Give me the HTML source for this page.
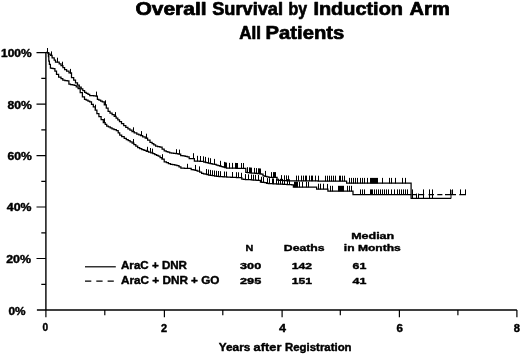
<!DOCTYPE html>
<html><head><meta charset="utf-8"><title>Overall Survival by Induction Arm</title>
<style>html,body{margin:0;padding:0;background:#fff}svg{display:block}</style></head>
<body>
<svg width="520" height="354" viewBox="0 0 520 354">
<rect width="520" height="354" fill="#fff"/>
<g stroke="#000" fill="none" stroke-width="1.4">
<path d="M45.9 52V310M36.9 310H516.9"/>
</g>
<g stroke="#000" fill="none" stroke-width="1.2">
<path d="M41.3 284.3H45.9M36.5 258.5H45.9M41.3 232.8H45.9M36.5 207.0H45.9M41.3 181.3H45.9M36.5 155.6H45.9M41.3 129.8H45.9M36.5 104.1H45.9M41.3 78.3H45.9M36.5 52.6H45.9M45.9 310V317.2M104.8 310V315.2M164.4 310V317.2M222.8 310V315.2M282.1 310V317.2M340.3 310V315.2M399.4 310V317.2M457.9 310V315.2M516.9 310V317.2"/>
</g>
<g stroke="#000" fill="none" stroke-width="1.25" stroke-linejoin="miter">
<path d="M45.9 52.4 H47.0 V52.5 H48.0 H48.8 V54.0 H49.5 H50.2 V55.4 H51.0 H52.1 V57.8 H53.1 H54.2 V60.1 H55.3 H55.5 V62.2 H55.7 H58.2 H59.2 V63.9 H60.1 H61.0 V65.6 H62.0 H62.9 V67.6 H63.7 H64.6 V69.6 H65.4 H66.6 V71.2 H67.8 H69.0 V72.8 H70.2 H71.5 V77.7 H72.7 H73.7 V80.2 H74.6 H75.5 V82.8 H76.5 H77.5 V85.0 H78.4 H79.3 V87.2 H80.3 H81.2 V88.9 H82.0 H82.8 V90.6 H83.7 H84.6 V92.3 H85.4 H86.2 V93.4 H87.1 H88.0 V94.4 H88.8 H89.7 V95.5 H90.5 H91.5 V95.7 H92.6 H93.7 V95.9 H94.7 H95.8 V96.1 H96.8 H97.4 V99.3 H98.1 H98.9 V100.1 H99.8 H100.7 V101.0 H101.5 H102.3 V101.8 H103.2 H104.3 V104.8 H105.5 H106.3 V108.1 H107.2 H108.1 V111.4 H108.9 H110.0 V113.0 H111.0 H112.1 V114.7 H113.1 H114.2 V116.3 H115.2 H116.1 V118.1 H116.9 H117.8 V119.8 H118.7 H119.5 V121.6 H120.4 H121.5 V123.5 H122.6 H123.7 V125.5 H124.7 H125.8 V127.4 H126.9 H127.9 V128.8 H128.9 H129.9 V130.1 H131.0 H132.0 V131.5 H133.0 H134.2 V132.8 H135.5 H136.8 V134.2 H138.0 H138.8 V134.8 H139.7 H140.6 V135.5 H141.4 H142.7 V136.8 H143.9 H145.2 V138.1 H146.4 H147.6 V140.2 H148.8 H150.0 V142.3 H151.2 H152.1 V143.5 H153.0 H153.8 V144.8 H154.7 H155.6 V146.0 H156.5 H157.6 V146.6 H158.8 H159.9 V147.2 H161.0 H162.1 V149.0 H163.2 H164.2 V150.8 H165.3 H166.2 V151.5 H167.1 H167.9 V152.2 H168.8 H169.7 V152.9 H170.6 H171.6 V153.2 H172.7 H173.7 V153.4 H174.7 H175.8 V153.7 H176.8 H178.1 V154.0 H179.4 H180.7 V155.5 H181.9 H183.0 V155.9 H184.0 H185.1 V156.4 H186.2 H187.2 V156.8 H188.3 H189.2 V158.5 H190.0 H193.8 H194.4 V161.0 H195.0 H196.0 V161.1 H196.9 H197.9 V161.2 H198.8 H199.8 V161.3 H200.8 H201.7 V161.4 H202.7 H203.8 V162.1 H204.8 H205.9 V162.7 H207.0 H208.1 V163.1 H209.1 H210.1 V163.6 H211.2 H212.2 V164.0 H213.3 H214.4 V164.4 H215.4 H216.2 V165.1 H217.1 H218.0 V165.7 H218.8 H219.7 V166.1 H220.5 H221.4 V166.6 H222.2 H223.1 V167.0 H223.9 H224.8 V167.6 H225.6 H226.5 V168.2 H227.3 H236.2 V168.3 H245.2 H245.8 V172.4 H246.4 H247.4 V172.6 H248.4 H249.4 V172.8 H250.3 H251.3 V173.0 H252.3 H253.3 V173.2 H254.3 H255.3 V173.4 H256.3 H257.3 V173.6 H258.2 H259.2 V173.8 H260.2 H261.2 V174.0 H262.2 H263.0 V175.8 H263.9 H264.9 V176.3 H265.9 H266.9 V176.9 H268.0 H269.0 V177.4 H270.0 H276.6 H277.1 V180.2 H277.6 H278.6 V180.3 H279.7 H280.7 V180.4 H281.7 H282.8 V180.6 H283.8 H284.8 V180.7 H285.9 H286.9 V180.8 H287.9 H289.0 V180.9 H290.0 H318.0 V181.0 H346.0 H346.6 V183.2 H347.2 H411.1 V198.3 H451.0"/>
<path d="M47.8 52.5 H48.0 V53.3 H48.1 H48.4 V56.7 H48.6 H48.8 V61.0 H49.0 H49.4 V64.3 H49.8 H50.4 V68.2 H51.0 H51.8 V68.4 H52.5 H53.2 V68.6 H54.0 H54.9 V71.1 H55.7 H56.5 V74.3 H57.3 H58.6 V77.1 H60.0 H61.0 V78.7 H61.9 H62.8 V80.2 H63.8 H64.9 V80.6 H66.0 H67.2 V80.9 H68.3 H68.9 V84.1 H69.5 H70.5 V84.5 H71.4 H72.3 V84.9 H73.3 H74.2 V85.3 H75.2 H76.2 V86.9 H77.2 H78.1 V88.5 H79.1 H80.2 V92.7 H81.3 H82.4 V96.8 H83.5 H84.5 V99.3 H85.4 H86.2 V100.1 H87.1 H88.0 V101.0 H88.8 H89.7 V101.8 H90.5 H91.5 V104.3 H92.4 H93.3 V106.9 H94.3 H95.2 V110.2 H96.0 H96.9 V113.6 H97.8 H98.9 V116.5 H100.0 H101.1 V119.6 H102.2 H103.3 V122.7 H104.4 H105.2 V124.3 H106.0 H106.7 V126.0 H107.5 H108.4 V126.9 H109.3 H110.2 V127.9 H111.1 H112.0 V128.8 H112.9 H114.0 V129.7 H115.2 H116.3 V130.6 H117.4 H118.2 V132.8 H119.0 H119.7 V135.0 H120.5 H121.7 V136.7 H123.0 H124.2 V138.4 H125.4 H126.3 V139.6 H127.3 H128.2 V140.7 H129.2 H130.1 V141.9 H131.1 H132.1 V143.1 H133.0 H133.9 V144.6 H134.9 H135.8 V146.1 H136.7 H137.7 V147.6 H138.6 H139.7 V148.5 H140.8 H141.8 V149.5 H142.9 H144.0 V150.4 H145.1 H146.2 V151.3 H147.4 H148.5 V152.2 H149.7 H150.8 V152.9 H151.8 H152.9 V153.6 H154.0 H154.8 V154.5 H155.7 H156.6 V155.3 H157.4 H158.2 V156.2 H159.1 H160.1 V157.6 H161.0 H161.9 V159.0 H162.9 H164.2 V161.8 H165.4 H166.4 V162.6 H167.4 H168.4 V163.5 H169.5 H170.5 V164.3 H171.5 H172.6 V164.7 H173.7 H174.8 V165.2 H175.8 H176.9 V165.6 H178.0 H179.0 V166.9 H179.9 H180.9 V168.2 H181.9 H184.4 V168.3 H187.0 H190.0 H191.2 V169.5 H192.5 H193.3 V169.9 H194.2 H195.1 V170.3 H195.9 H197.2 V171.2 H198.5 H199.6 V172.2 H200.6 H201.6 V173.3 H202.7 H203.5 V173.8 H204.4 H205.2 V174.2 H206.1 H206.9 V174.6 H207.8 H208.6 V175.0 H209.5 H210.3 V175.4 H211.2 H212.3 V175.7 H213.5 H214.6 V176.0 H215.7 H216.9 V176.3 H218.0 H219.0 V176.5 H220.0 H221.0 V176.6 H222.0 H223.0 V176.8 H224.0 H225.0 V176.9 H226.0 H227.0 V177.0 H228.0 H229.0 V177.2 H230.0 H230.9 V177.3 H231.8 H232.8 V177.4 H233.7 H234.6 V177.4 H235.5 H236.4 V177.5 H237.3 H238.2 V177.6 H239.2 H240.1 V177.7 H241.0 H241.8 V179.2 H242.7 H243.6 V179.3 H244.5 H245.4 V179.5 H246.4 H247.3 V179.6 H248.2 H249.2 V179.7 H250.1 H251.1 V179.9 H252.0 H253.0 V180.0 H253.9 H254.9 V180.1 H255.9 H256.8 V180.3 H257.8 H258.7 V180.4 H259.7 H260.4 V182.1 H261.0 H262.1 V182.3 H263.3 H264.5 V182.5 H265.6 H266.5 V183.4 H267.3 H268.4 V183.5 H269.5 H270.6 V183.7 H271.8 H272.9 V183.8 H274.0 H275.0 V183.9 H276.0 H277.0 V184.0 H278.0 H279.0 V184.1 H280.0 H281.0 V184.2 H282.0 H283.0 V184.3 H284.0 H285.0 V184.4 H286.0 H287.0 V184.5 H288.0 H289.0 V184.6 H290.0 H291.7 V184.8 H293.4 V187.0 H316.2 H316.6 V189.0 H317.0 H327.4 H327.9 V191.1 H328.5 H352.4 H353.0 V194.7 H353.6 H411.0"/>
<path d="M411.5 194.7H416.2M418.3 194.7H424.2M428.5 194.7H434.0M437.3 194.7H442.4M445.0 194.7H456.0M459.3 194.7H466.0"/>
</g>
<g stroke="#000" fill="none" stroke-width="1">
<path d="M47.5 52.8v-4.8M51.5 56.2v-4.8M57.5 62.5v-4.8M62.5 66.5v-4.8M70.5 73.7v-4.8M96.5 96.4v-4.8M105.5 105.1v-4.8M115.5 116.9v-4.8M133.5 132.1v-4.8M141.5 135.9v-4.8M146.5 138.5v-4.8M176.5 154.0v-4.8M179.5 154.4v-4.8M193.5 158.8v-5.6M197.5 161.4v-5.6M200.5 161.6v-5.6M203.5 161.9v-5.6M205.5 162.5v-5.6M208.5 163.3v-5.6M210.5 163.8v-5.6M214.5 164.5v-5.6M220.5 166.4v-5.6M224.5 167.5v-5.6M225.5 167.9v-5.6M226.5 168.2v-5.6M229.5 168.5v-5.6M232.5 168.5v-5.6M235.5 168.5v-5.6M236.5 168.6v-5.6M237.5 168.6v-5.6M241.5 168.6v-5.6M243.5 168.6v-5.6M247.5 172.8v-5.6M249.5 173.0v-5.6M250.5 173.1v-5.6M251.5 173.2v-5.6M254.5 173.5v-5.6M256.5 173.7v-5.6M258.5 173.9v-5.6M259.5 174.0v-5.6M260.5 174.1v-5.6M265.5 176.5v-5.6M271.5 177.7v-5.6M273.5 177.7v-5.6M274.5 177.7v-5.6M275.5 177.7v-5.6M281.5 180.7v-5.6M284.5 180.9v-5.6M286.5 181.0v-5.6M288.5 181.1v-5.6M296.5 181.2v-5.6M298.5 181.2v-5.6M301.5 181.2v-5.6M303.5 181.2v-5.6M305.5 181.2v-5.6M306.5 181.2v-5.6M309.5 181.2v-5.6M311.5 181.2v-5.6M312.5 181.2v-5.6M315.5 181.2v-5.6M318.5 181.3v-5.6M325.5 181.3v-5.6M327.5 181.3v-5.6M329.5 181.3v-5.6M331.5 181.3v-5.6M333.5 181.3v-5.6M335.5 181.3v-5.6M339.5 181.3v-5.6M340.5 181.3v-5.6M342.5 181.3v-5.6M344.5 181.3v-5.6M349.5 183.5v-5.6M351.5 183.5v-5.6M353.5 183.5v-5.6M355.5 183.5v-5.6M357.5 183.5v-5.6M360.5 183.5v-5.6M362.5 183.5v-5.6M364.5 183.5v-5.6M367.5 183.5v-5.6M370.5 183.5v-5.6M371.5 183.5v-5.6M372.5 183.5v-5.6M373.5 183.5v-5.6M374.5 183.5v-5.6M375.5 183.5v-5.6M376.5 183.5v-5.6M377.5 183.5v-5.6M382.5 183.5v-5.6M389.5 183.5v-5.6M391.5 183.5v-5.6M395.5 183.5v-5.6M402.5 183.5v-5.6M405.5 183.5v-5.6"/>
<path d="M95.5 109.5v-4.8M104.5 123.1v-4.8M133.5 143.8v-4.8M147.5 151.6v-4.8M150.5 152.8v-4.8M152.5 153.4v-4.8M162.5 159.0v-4.8M187.5 168.6v-4.8M195.5 170.5v-5.6M199.5 172.0v-5.6M206.5 174.6v-5.6M208.5 175.1v-5.6M210.5 175.5v-5.6M212.5 175.9v-5.6M214.5 176.1v-5.6M216.5 176.4v-5.6M218.5 176.6v-5.6M220.5 176.8v-5.6M224.5 177.1v-5.6M226.5 177.2v-5.6M232.5 177.6v-5.6M236.5 177.8v-5.6M238.5 177.9v-5.6M241.5 178.4v-5.6M245.5 179.7v-5.6M248.5 179.9v-5.6M251.5 180.1v-5.6M253.5 180.3v-5.6M255.5 180.4v-5.6M258.5 180.6v-5.6M261.5 182.4v-5.6M263.5 182.6v-5.6M267.5 183.7v-5.6M269.5 183.8v-5.6M272.5 184.0v-5.6M273.5 184.1v-5.6M276.5 184.2v-5.6M278.5 184.3v-5.6M280.5 184.4v-5.6M282.5 184.5v-5.6M284.5 184.6v-5.6M287.5 184.8v-5.6M289.5 184.9v-5.6M294.5 187.3v-5.6M295.5 187.3v-5.6M296.5 187.3v-5.6M297.5 187.3v-5.6M299.5 187.3v-5.6M302.5 187.3v-5.6M306.5 187.3v-5.6M308.5 187.3v-5.6M318.5 189.3v-5.6M320.5 189.3v-5.6M323.5 189.3v-5.6M327.5 189.5v-5.6M330.5 191.4v-5.6M332.5 191.4v-5.6M338.5 191.4v-5.6M339.5 191.4v-5.6M340.5 191.4v-5.6M341.5 191.4v-5.6M342.5 191.4v-5.6M343.5 191.4v-5.6M347.5 191.4v-5.6M349.5 191.4v-5.6M351.5 191.4v-5.6M360.5 195.0v-5.6M362.5 195.0v-5.6M364.5 195.0v-5.6M370.5 195.0v-5.6M371.5 195.0v-5.6M372.5 195.0v-5.6M374.5 195.0v-5.6M376.5 195.0v-5.6M378.5 195.0v-5.6M380.5 195.0v-5.6M382.5 195.0v-5.6M384.5 195.0v-5.6M386.5 195.0v-5.6M388.5 195.0v-5.6M391.5 195.0v-5.6M394.5 195.0v-5.6M397.5 195.0v-5.6M399.5 195.0v-5.6M401.5 195.0v-5.6M403.5 195.0v-5.6M405.5 195.0v-5.6M407.5 195.0v-5.6M412.5 195.0v-5.6M423.5 195.0v-5.6M429.5 195.0v-5.6M432.5 195.0v-5.6M450.5 195.0v-5.6M452.5 195.0v-5.6M460.5 195.0v-5.6M465.5 195.0v-5.6"/>
<path d="M412.5 198.6v-5.0M416.5 198.6v-5.0M418.5 198.6v-5.0M423.5 198.6v-5.0M429.5 198.6v-5.0M432.5 198.6v-5.0"/>
<path d="M451 198.6V190"/>
</g>
<g stroke="#000" fill="none" stroke-width="1.2">
<path d="M85 266.8H115.8"/>
<path d="M85 281.2H113.8" stroke-dasharray="6.3 5"/>
</g>
<g font-family="'Liberation Sans', Arial, sans-serif" font-weight="bold" fill="#000">
<text x="135.4" y="15.2" font-size="17.8" stroke="#000" stroke-width="0.7" stroke-linejoin="round" textLength="71.2" lengthAdjust="spacingAndGlyphs">Overall</text>
<text x="212.2" y="15.2" font-size="17.8" stroke="#000" stroke-width="0.7" stroke-linejoin="round" textLength="70.8" lengthAdjust="spacingAndGlyphs">Survival</text>
<text x="288.6" y="15.2" font-size="17.8" stroke="#000" stroke-width="0.7" stroke-linejoin="round" textLength="18.6" lengthAdjust="spacingAndGlyphs">by</text>
<text x="313.4" y="15.2" font-size="17.8" stroke="#000" stroke-width="0.7" stroke-linejoin="round" textLength="89.6" lengthAdjust="spacingAndGlyphs">Induction</text>
<text x="409.6" y="15.2" font-size="17.8" stroke="#000" stroke-width="0.7" stroke-linejoin="round" textLength="40.2" lengthAdjust="spacingAndGlyphs">Arm</text>
<text x="239.2" y="38.8" font-size="17.8" stroke="#000" stroke-width="0.7" stroke-linejoin="round" textLength="21.8" lengthAdjust="spacingAndGlyphs">All</text>
<text x="265.6" y="38.8" font-size="17.8" stroke="#000" stroke-width="0.7" stroke-linejoin="round" textLength="78.6" lengthAdjust="spacingAndGlyphs">Patients</text>
<text x="1.0" y="57.1" font-size="10.0" stroke="#000" stroke-width="0.4" stroke-linejoin="round" textLength="30.6" lengthAdjust="spacingAndGlyphs">100%</text>
<text x="7.6" y="109.4" font-size="10.0" stroke="#000" stroke-width="0.4" stroke-linejoin="round" textLength="24.3" lengthAdjust="spacingAndGlyphs">80%</text>
<text x="7.6" y="160.0" font-size="10.0" stroke="#000" stroke-width="0.4" stroke-linejoin="round" textLength="24.3" lengthAdjust="spacingAndGlyphs">60%</text>
<text x="6.8" y="211.3" font-size="10.0" stroke="#000" stroke-width="0.4" stroke-linejoin="round" textLength="24.6" lengthAdjust="spacingAndGlyphs">40%</text>
<text x="6.2" y="262.8" font-size="10.0" stroke="#000" stroke-width="0.4" stroke-linejoin="round" textLength="24.8" lengthAdjust="spacingAndGlyphs">20%</text>
<text x="8.5" y="315.3" font-size="10.0" stroke="#000" stroke-width="0.4" stroke-linejoin="round" textLength="17.1" lengthAdjust="spacingAndGlyphs">0%</text>
<text x="42.4" y="330.8" font-size="10.2" stroke="#000" stroke-width="0.4" stroke-linejoin="round" textLength="5.6" lengthAdjust="spacingAndGlyphs">0</text>
<text x="160.9" y="331.6" font-size="10.2" stroke="#000" stroke-width="0.4" stroke-linejoin="round" textLength="6.1" lengthAdjust="spacingAndGlyphs">2</text>
<text x="279.0" y="331.6" font-size="10.2" stroke="#000" stroke-width="0.4" stroke-linejoin="round" textLength="7.0" lengthAdjust="spacingAndGlyphs">4</text>
<text x="396.5" y="331.6" font-size="10.2" stroke="#000" stroke-width="0.4" stroke-linejoin="round" textLength="6.4" lengthAdjust="spacingAndGlyphs">6</text>
<text x="513.8" y="331.6" font-size="10.2" stroke="#000" stroke-width="0.4" stroke-linejoin="round" textLength="6.2" lengthAdjust="spacingAndGlyphs">8</text>
<text x="218.8" y="351.0" font-size="10.3" stroke="#000" stroke-width="0.4" stroke-linejoin="round" textLength="31.6" lengthAdjust="spacingAndGlyphs">Years</text>
<text x="253.6" y="351.0" font-size="10.3" stroke="#000" stroke-width="0.4" stroke-linejoin="round" textLength="27.8" lengthAdjust="spacingAndGlyphs">after</text>
<text x="285.0" y="351.0" font-size="10.3" stroke="#000" stroke-width="0.4" stroke-linejoin="round" textLength="66.6" lengthAdjust="spacingAndGlyphs">Registration</text>
<text x="121.0" y="269.4" font-size="10.3" stroke="#000" stroke-width="0.4" stroke-linejoin="round" textLength="66.0" lengthAdjust="spacingAndGlyphs">AraC + DNR</text>
<text x="121.0" y="283.8" font-size="10.3" stroke="#000" stroke-width="0.4" stroke-linejoin="round" textLength="98.5" lengthAdjust="spacingAndGlyphs">AraC + DNR + GO</text>
<text x="245.5" y="251.2" font-size="9.7" stroke="#000" stroke-width="0.4" stroke-linejoin="round" textLength="7.8" lengthAdjust="spacingAndGlyphs">N</text>
<text x="283.8" y="251.2" font-size="9.7" stroke="#000" stroke-width="0.4" stroke-linejoin="round" textLength="40.8" lengthAdjust="spacingAndGlyphs">Deaths</text>
<text x="351.2" y="238.8" font-size="9.7" stroke="#000" stroke-width="0.4" stroke-linejoin="round" textLength="43.0" lengthAdjust="spacingAndGlyphs">Median</text>
<text x="343.8" y="251.2" font-size="9.7" stroke="#000" stroke-width="0.4" stroke-linejoin="round" textLength="57.0" lengthAdjust="spacingAndGlyphs">in Months</text>
<text x="240.0" y="269.2" font-size="9.7" stroke="#000" stroke-width="0.4" stroke-linejoin="round" textLength="21.2" lengthAdjust="spacingAndGlyphs">300</text>
<text x="291.8" y="269.2" font-size="9.7" stroke="#000" stroke-width="0.4" stroke-linejoin="round" textLength="20.2" lengthAdjust="spacingAndGlyphs">142</text>
<text x="352.5" y="269.2" font-size="9.7" stroke="#000" stroke-width="0.4" stroke-linejoin="round" textLength="13.8" lengthAdjust="spacingAndGlyphs">61</text>
<text x="240.0" y="283.5" font-size="9.7" stroke="#000" stroke-width="0.4" stroke-linejoin="round" textLength="21.2" lengthAdjust="spacingAndGlyphs">295</text>
<text x="291.8" y="283.5" font-size="9.7" stroke="#000" stroke-width="0.4" stroke-linejoin="round" textLength="20.2" lengthAdjust="spacingAndGlyphs">151</text>
<text x="352.5" y="283.5" font-size="9.7" stroke="#000" stroke-width="0.4" stroke-linejoin="round" textLength="13.8" lengthAdjust="spacingAndGlyphs">41</text>
</g>
</svg>
</body></html>
